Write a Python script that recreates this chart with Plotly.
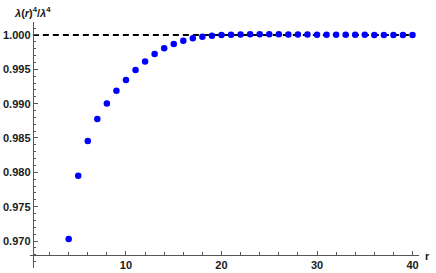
import plotly.graph_objects as go

r_vals = list(range(4, 41))
ratio_vals = [0.9703, 0.9795, 0.98456, 0.98776, 0.99004, 0.99188, 0.99343, 0.99489,
              0.99614, 0.99722, 0.99805, 0.99868, 0.99917, 0.99952, 0.99975, 0.9999,
              0.99999, 1.00005, 1.00008, 1.0001, 1.0001, 1.0001, 1.00009, 1.00008,
              1.00007, 1.00006, 1.00005, 1.00004, 1.00003, 1.00003, 1.00002, 1.00002,
              1.00001, 1.00001, 1.00001, 1.0, 1.0]
ref_x = [0.25, 40]
ref_y = [1.0, 1.0]

y_ticks = [0.970, 0.975, 0.980, 0.985, 0.990, 0.995, 1.000]
y_minor = [round(0.967 + 0.001 * i, 3) for i in range(35)]
x_ticks = [10, 20, 30, 40]
x_minor = list(range(2, 41, 2))

W, H = 436, 273
fam = "Liberation Sans, Arial, sans-serif"
txtcol = "#1a1a1a"
axcol = "#555555"
tfont = dict(family=fam, size=11, color=txtcol, weight="bold")

fig = go.Figure()
fig.add_trace(go.Scatter(x=ref_x, y=ref_y, mode="lines",
                         line=dict(color="black", width=2, dash="6px,4px"),
                         hoverinfo="skip", showlegend=False))
fig.add_trace(go.Scatter(x=r_vals, y=ratio_vals, mode="markers",
                         marker=dict(color="#0000ff", size=6.5, line=dict(width=0)),
                         showlegend=False))

fig.update_layout(
    width=W, height=H, margin=dict(l=0, r=0, t=0, b=0, autoexpand=False),
    plot_bgcolor="white", paper_bgcolor="white", font=dict(family=fam, size=11, color=txtcol),
    xaxis=dict(domain=[30 / W, 419 / W], range=[-0.05, 40.68], anchor="free", automargin=False,
               position=(H - 254.7) / H, showgrid=False, zeroline=False,
               showline=True, linecolor=axcol, linewidth=1,
               tickmode="array", tickvals=x_ticks, ticks="inside", ticklen=4,
               tickcolor=axcol, tickfont=tfont,
               minor=dict(tickmode="array", tickvals=x_minor, ticks="inside", ticklen=2.5, tickcolor=axcol)),
    yaxis=dict(domain=[(H - 268) / H, (H - 22) / H], range=[0.96607, 1.00189], anchor="free", automargin=False,
               position=32.7 / W, showgrid=False, zeroline=False,
               showline=True, linecolor=axcol, linewidth=1,
               tickmode="array", tickvals=y_ticks, tickformat=".3f", ticks="inside", ticklen=4,
               tickcolor=axcol, tickfont=tfont,
               minor=dict(tickmode="array", tickvals=y_minor, ticks="inside", ticklen=2.5, tickcolor=axcol)),
    annotations=[
        dict(text="<b><i>λ</i>(<i>r</i>)<sup>4</sup>/<i>λ</i><sup>4</sup></b>", xref="paper", yref="paper",
             x=32.7 / W, y=1 - 12 / H, xanchor="center", yanchor="middle", showarrow=False,
             font=dict(family=fam, size=11, color=txtcol)),
        dict(text="<b>r</b>", xref="paper", yref="paper",
             x=427 / W, y=1 - 256 / H, xanchor="center", yanchor="middle", showarrow=False,
             font=dict(family=fam, size=11, color=txtcol)),
    ],
)

fig.write_html("out.html", config={"displayModeBar": False},
               post_script="document.body.style.margin='0';document.body.style.overflow='hidden';")
